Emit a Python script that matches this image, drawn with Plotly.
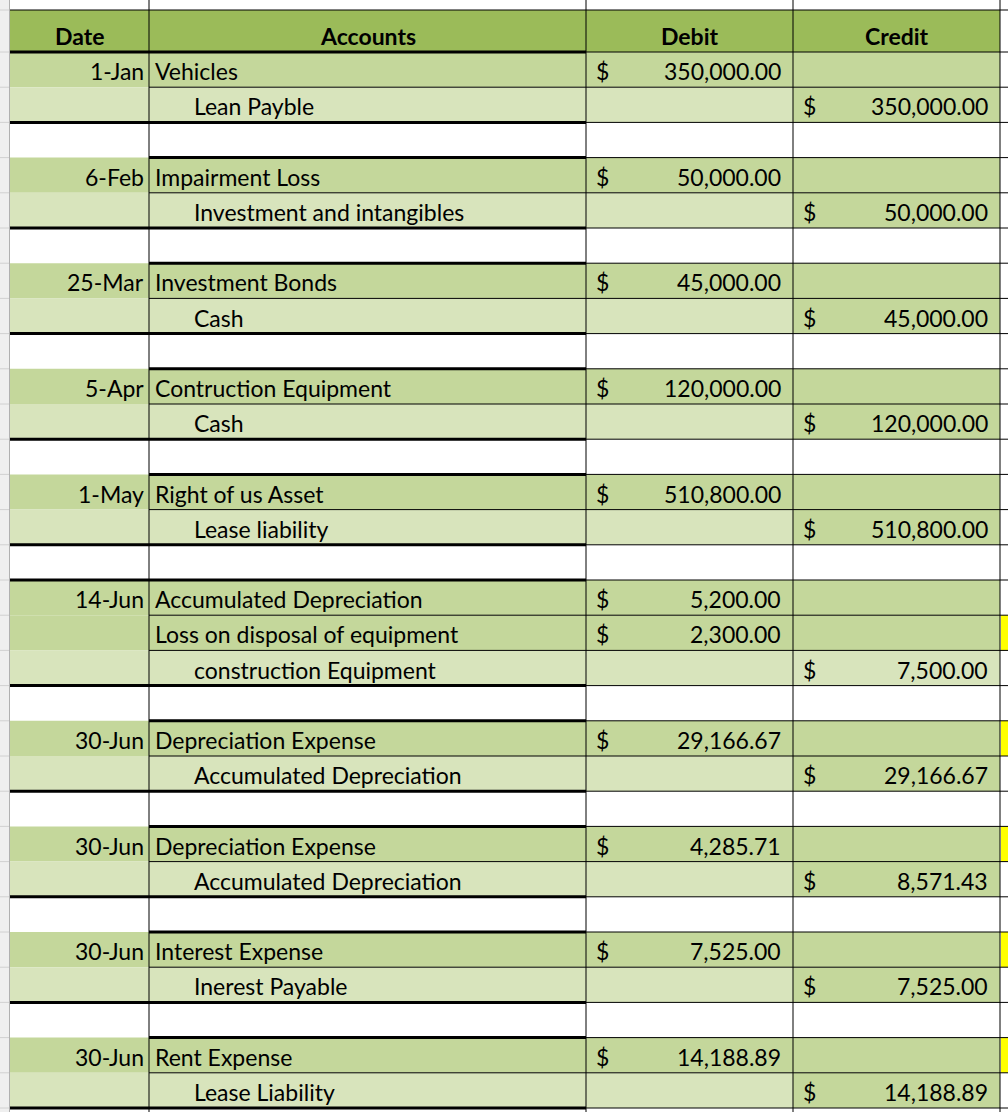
import plotly.graph_objects as go

# ---------------- data ----------------
headers = ["Date", "Accounts", "Debit", "Credit"]

dates = ["1-Jan", "", "",
         "6-Feb", "", "",
         "25-Mar", "", "",
         "5-Apr", "", "",
         "1-May", "", "",
         "14-Jun", "", "", "",
         "30-Jun", "", "",
         "30-Jun", "", "",
         "30-Jun", "", "",
         "30-Jun", ""]

accounts = ["Vehicles", "Lean Payble", "",
            "Impairment Loss", "Investment and intangibles", "",
            "Investment Bonds", "Cash", "",
            "Contruction Equipment", "Cash", "",
            "Right of us Asset", "Lease liability", "",
            "Accumulated Depreciation", "Loss on disposal of equipment", "construction Equipment", "",
            "Depreciation Expense", "Accumulated Depreciation", "",
            "Depreciation Expense", "Accumulated Depreciation", "",
            "Interest Expense", "Inerest Payable", "",
            "Rent Expense", "Lease Liability"]

debits = [350000.00, None, None,
          50000.00, None, None,
          45000.00, None, None,
          120000.00, None, None,
          510800.00, None, None,
          5200.00, 2300.00, None, None,
          29166.67, None, None,
          4285.71, None, None,
          7525.00, None, None,
          14188.89, None]

credits = [None, 350000.00, None,
           None, 50000.00, None,
           None, 45000.00, None,
           None, 120000.00, None,
           None, 510800.00, None,
           None, None, 7500.00, None,
           None, 29166.67, None,
           None, 8571.43, None,
           None, 7525.00, None,
           None, 14188.89]

# ---------------- styles / layout ----------------
W, H = 1008, 1112
COL_X = [10, 149, 586, 793, 1000]
HEAD_TOP, HEAD_BOT = 10, 52
ROW_H = 35.2
HEAD_FILL = "#9BBB59"
DARK = "#C4D79B"
LIGHT = "#D8E4BC"
YELLOW = "#FFFF00"
credit_light_rows = [17]
yellow_rows = [16, 19, 22, 25, 28]
date_thick_top_rows = [15]
FONT = "Lato, Calibri, Carlito, sans-serif"
FS = 23

n = len(accounts)
def top(i):
    return HEAD_BOT + ROW_H * i
def blank(i):
    return i < 0 or i >= n or accounts[i] == ""

shapes = []
def rect(x0, y0, x1, y1, color):
    shapes.append(dict(type="rect", xref="x", yref="y", x0=x0, y0=y0, x1=x1, y1=y1,
                       fillcolor=color, line=dict(width=0), layer="below"))
def hline(x0, x1, y, w=1, color="black"):
    shapes.append(dict(type="line", xref="x", yref="y", x0=x0, x1=x1, y0=y, y1=y,
                       line=dict(color=color, width=w)))
def vline(x, y0, y1, w=1, color="black"):
    shapes.append(dict(type="line", xref="x", yref="y", x0=x, x1=x, y0=y0, y1=y1,
                       line=dict(color=color, width=w)))

# left row-header strip
rect(0, 0, 9, H, "#EFEFEF")
# header fill
rect(COL_X[0], HEAD_TOP, COL_X[4], HEAD_BOT, HEAD_FILL)

# row fills
for i in range(n):
    if blank(i):
        continue
    y0, y1 = top(i), top(i + 1)
    c = DARK if debits[i] is not None else LIGHT
    rect(COL_X[0], y0, COL_X[3], y1, c)
    rect(COL_X[3], y0, COL_X[4], y1, LIGHT if i in credit_light_rows else DARK)
    if i in yellow_rows:
        rect(COL_X[4] + 1, y0, W, y1, YELLOW)

# gray row separators in the strip
hline(0, 9, HEAD_TOP, 1, "#D0D0D0")
for k in range(n + 1):
    hline(0, 9, top(k), 1, "#D0D0D0")
vline(9.5, 0, H, 1, "#B0B0B0")

# header top border
hline(COL_X[0], W, HEAD_TOP, 1)

# horizontal borders
for k in range(n + 1):
    y = top(k)
    hline(COL_X[2], W, y, 1)
    entry_top = (not blank(k)) and blank(k - 1)
    entry_bot = (not blank(k - 1)) and blank(k)
    acc_thick = k == 0 or entry_top or entry_bot
    hline(COL_X[1], COL_X[2], y, 3 if acc_thick else 1)
    if k == 0 or entry_bot or k in date_thick_top_rows:
        hline(COL_X[0], COL_X[1], y, 3)

# vertical borders
for x in COL_X[1:]:
    vline(x, 0, H, 1)

# ---------------- text ----------------
ann = []
def text(x, y, s, anchor, bold=False):
    ann.append(dict(x=x, y=y, xref="x", yref="y", text=f"<b>{s}</b>" if bold else s,
                    showarrow=False, xanchor=anchor, yanchor="middle",
                    font=dict(family=FONT, size=FS, color="black")))

for j, h in enumerate(headers):
    text((COL_X[j] + COL_X[j + 1]) / 2, HEAD_BOT - 16, h, "center", bold=True)

def money(v):
    return f"{v:,.2f}"

for i in range(n):
    if blank(i):
        continue
    yc = top(i + 1) - 16
    if dates[i]:
        text(COL_X[1] - 3, yc, dates[i], "right")
    indent = credits[i] is not None
    text(COL_X[1] + (43 if indent else 4), yc, accounts[i], "left")
    if debits[i] is not None:
        text(COL_X[2] + 8, yc, "$", "left")
        text(COL_X[3] - 10, yc, money(debits[i]), "right")
    if credits[i] is not None:
        text(COL_X[3] + 8, yc, "$", "left")
        text(COL_X[4] - 10, yc, money(credits[i]), "right")

fig = go.Figure()
fig.add_trace(go.Scatter(x=[0, W], y=[0, H], mode="markers", marker=dict(opacity=0),
                         hoverinfo="skip", showlegend=False))
fig.update_layout(width=W, height=H, margin=dict(l=0, r=0, t=0, b=0),
                  paper_bgcolor="white", plot_bgcolor="white",
                  xaxis=dict(range=[0, W], visible=False, fixedrange=True),
                  yaxis=dict(range=[H, 0], visible=False, fixedrange=True),
                  shapes=shapes, annotations=ann, showlegend=False)
fig.write_html("out.html", config={"displayModeBar": False},
               post_script="document.body.style.margin='0px';document.body.style.overflow='hidden';")
